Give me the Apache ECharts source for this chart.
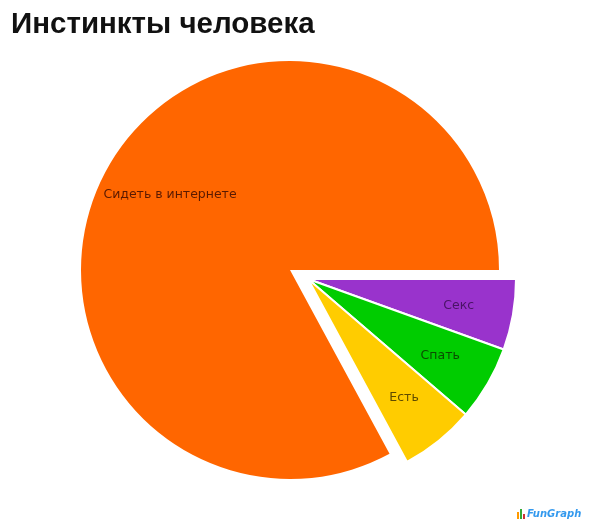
<!DOCTYPE html>
<html>
<head>
<meta charset="utf-8">
<script src="https://cdn.jsdelivr.net/npm/echarts@6/dist/echarts.min.js"></script>
<style>
html,body{margin:0;padding:0;background:#fff;}
#chart{width:600px;height:530px;}
</style>
</head>
<body>
<div id="chart"></div>
<script>
// Data (clockwise from 3 o'clock)
const categories = ['Секс', 'Спать', 'Есть', 'Сидеть в интернете'];
const values = [5.5, 5.8, 5.8, 82.9];
const colors = ['#9933CC', '#00CC00', '#FFCC00', '#FF6600'];
const labelColors = ['#4a1466', '#0a4d00', '#5e4a00', '#5a1a00'];
const explodedIdx = [0, 1, 2];
const mainIdx = [3];

function buildData(visibleIdx, mode) {
  return categories.map((name, i) => {
    const vis = visibleIdx.indexOf(i) >= 0;
    if (mode === 'shape') {
      return {
        name, value: values[i],
        itemStyle: vis ? { color: colors[i] } : { color: 'transparent', borderColor: 'transparent' },
        label: { show: false }
      };
    }
    return {
      name, value: values[i],
      itemStyle: { color: 'transparent', borderColor: 'transparent' },
      label: vis ? { show: true, color: labelColors[i] } : { show: false }
    };
  });
}

const common = {
  type: 'pie',
  startAngle: 0,
  clockwise: true,
  silent: true,
  animation: false,
  avoidLabelOverlap: false,
  labelLine: { show: false },
  emphasis: { disabled: true }
};

const chart = echarts.init(document.getElementById('chart'), null, { renderer: 'canvas' });
chart.setOption({
  backgroundColor: '#ffffff',
  title: {
    text: 'Инстинкты человека',
    left: 6, top: 5,
    textStyle: { fontFamily: 'Liberation Sans', fontWeight: 'bold', fontSize: 29.5, color: '#111' }
  },
  series: [
    Object.assign({}, common, {
      name: 'main',
      center: [290, 270], radius: [0, 209],
      data: buildData(mainIdx, 'shape')
    }),
    Object.assign({}, common, {
      name: 'exploded',
      center: [308, 279], radius: [0, 208],
      itemStyle: { borderColor: '#ffffff', borderWidth: 2 },
      data: buildData(explodedIdx, 'shape')
    }),
    Object.assign({}, common, {
      name: 'mainLabels',
      center: [290, 270], radius: [69, 209],
      label: { position: 'inside', fontFamily: 'DejaVu Sans', fontSize: 12.5, offset: [2, -3] },
      data: buildData(mainIdx, 'label')
    }),
    Object.assign({}, common, {
      name: 'explodedLabels',
      center: [308, 279], radius: [92, 208],
      label: { position: 'inside', fontFamily: 'DejaVu Sans', fontSize: 12.5 },
      data: buildData(explodedIdx, 'label')
    })
  ],
  graphic: [
    { type: 'rect', left: 517, top: 512, shape: { width: 2, height: 7 }, style: { fill: '#ff9900' } },
    { type: 'rect', left: 520, top: 509, shape: { width: 2, height: 10 }, style: { fill: '#33aa33' } },
    { type: 'rect', left: 523, top: 514, shape: { width: 2, height: 5 }, style: { fill: '#cc3333' } },
    { type: 'text', left: 527, top: 509, style: { text: 'FunGraph', fill: '#3399ee', font: 'italic bold 10px "DejaVu Sans"' } }
  ]
});
</script>
</body>
</html>
